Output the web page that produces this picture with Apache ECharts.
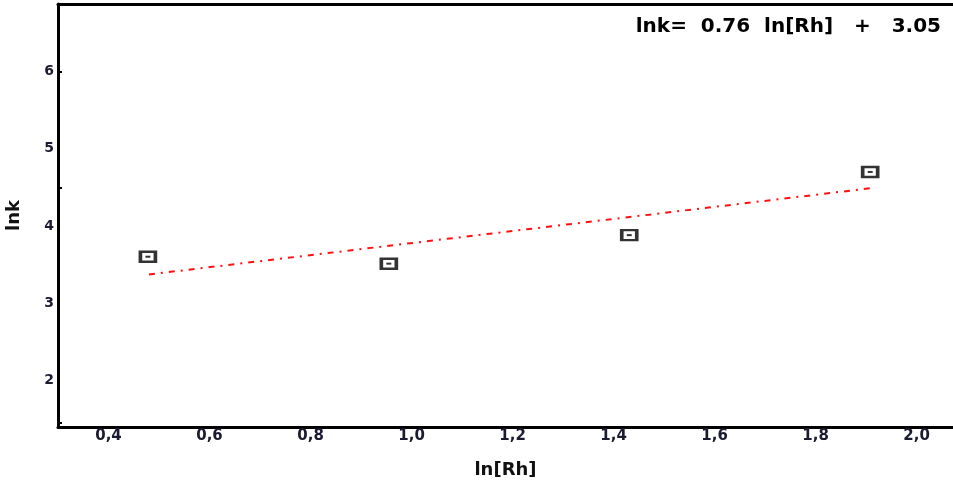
<!DOCTYPE html>
<html><head><meta charset="utf-8">
<script src="https://cdn.jsdelivr.net/npm/echarts@6/dist/echarts.min.js"></script>
<style>html,body{margin:0;padding:0;background:#fff}#c{width:953px;height:483px}</style>
</head><body><div id="c"></div>
<script>
const lnRh = [0.478, 0.955, 1.431, 1.908];
const lnk = [3.60, 3.51, 3.88, 4.70];
const fitX = [0.48, 1.91];
const fitY = [3.37, 4.49];
const xTicks = [0.4, 0.6, 0.8, 1.0, 1.2, 1.4, 1.6, 1.8, 2.0];
const yTicks = [2, 3, 4, 5, 6];
const equation = 'lnk=  0.76  ln[Rh]   +   3.05';

const chart = echarts.init(document.getElementById('c'));
const font = 'DejaVu Sans';
chart.setOption({
  animation: false,
  backgroundColor: '#fff',
  grid: {left: 58, top: 4, right: 0, bottom: 56, containLabel: false, outerBoundsMode: 'none'},
  xAxis: [{
    type: 'value', min: 0.3, max: 2.072, interval: 0.2,
    name: 'ln[Rh]', nameLocation: 'middle', nameGap: 34,
    nameTextStyle: {fontFamily: font, fontSize: 18, color: '#111', fontWeight: 'bold'},
    axisLine: {show: true, lineStyle: {color: '#000', width: 3}},
    axisTick: {show: false},
    splitLine: {show: false},
    axisLabel: {
      fontFamily: font, fontSize: 15, fontWeight: 'bold', color: '#1a1a30', margin: 2,
      customValues: xTicks,
      formatter: v => v.toFixed(1).replace('.', ',')
    }
  }, {
    type: 'value', position: 'top', min: 0.3, max: 2.072,
    axisLine: {show: true, onZero: false, lineStyle: {color: '#000', width: 3}},
    axisTick: {show: false}, axisLabel: {show: false}, splitLine: {show: false}
  }],
  yAxis: {
    type: 'value', min: 1.39, max: 6.88,
    name: 'lnk', nameLocation: 'middle', nameGap: 35, nameRotate: 90,
    nameTextStyle: {fontFamily: font, fontSize: 18, color: '#111', fontWeight: 'bold'},
    axisLine: {show: true, lineStyle: {color: '#000', width: 3}},
    axisTick: {show: true, inside: true, length: 4, lineStyle: {color: '#000', width: 2}, customValues: [1.45, 4.5, 6]},
    splitLine: {show: false},
    axisLabel: {fontFamily: font, fontSize: 14, fontWeight: 'bold', color: '#1a1a30', margin: 4, customValues: yTicks}
  },
  graphic: [{
    type: 'text', right: 12, top: 17,
    style: {text: equation, font: 'bold 20px "DejaVu Sans"', fill: '#000'}
  }],
  series: [{
    type: 'line', data: fitX.map((x, i) => [x, fitY[i]]),
    symbol: 'none', lineStyle: {color: '#ff1010', width: 2, type: [6, 6, 2, 6]}
  }, {
    type: 'scatter', data: lnRh.map((x, i) => [x, lnk[i]]),
    symbol: 'rect', symbolSize: [15, 10],
    itemStyle: {color: '#fff', borderColor: '#000', borderWidth: 3}
  }, {
    type: 'scatter', data: lnRh.map((x, i) => [x, lnk[i]]),
    symbol: 'rect', symbolSize: [5, 2], silent: true,
    itemStyle: {color: '#000'}
  }]
});
</script></body></html>
